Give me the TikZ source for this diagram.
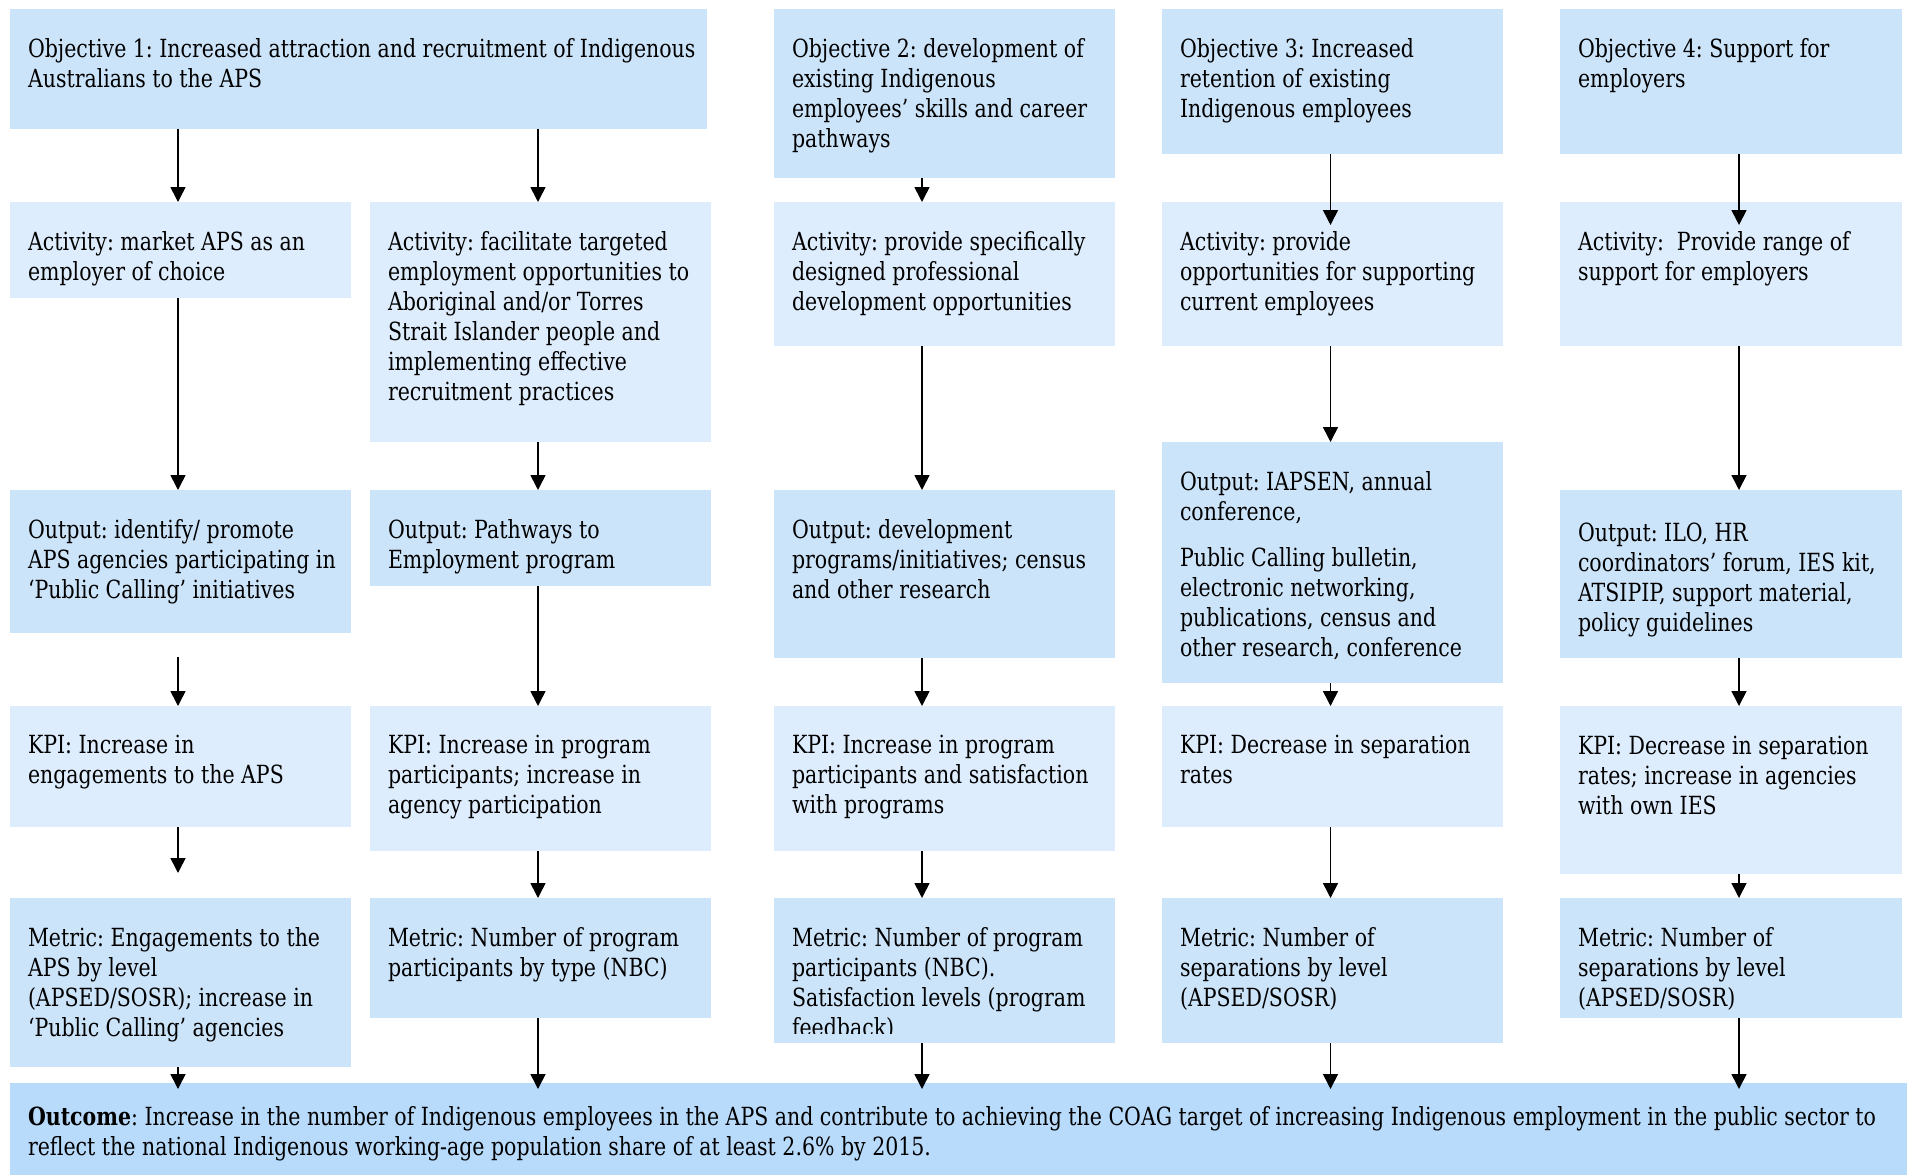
\documentclass[tikz,border=0pt]{standalone}
\usepackage{fontspec}
\setmainfont{DejaVu Serif}[FakeStretch=0.82]
\usetikzlibrary{arrows.meta,calc}
\definecolor{dk}{RGB}{204,228,250}
\definecolor{lt}{RGB}{222,237,253}
\definecolor{oc}{RGB}{184,218,251}
\newcommand{\mybox}[6]{%
  \pgfmathsetmacro{\mybw}{#4-#2}\pgfmathsetmacro{\mybh}{#5-#3}%
  \node[bx, fill=#6, anchor=north west, minimum width=\mybw pt, minimum height=\mybh pt] (#1) at (#2,#3) {};}
\newcommand{\mytext}[4]{\node[txt, anchor=north west] (#1) at (#2,#3) {\rule{0pt}{22pt}#4};}
\tikzset{
  bx/.style={rectangle, inner sep=0pt, outer sep=0pt, draw=none},
  txt/.style={inner sep=0pt, outer sep=0pt, align=left, text=black, font=\fontsize{25}{30}\selectfont\frenchspacing},
  arr/.style={line width=1.6pt, -{Triangle[width=15pt,length=15pt]}}
}
\begin{document}
\begin{tikzpicture}[x=1pt,y=-1pt]
\useasboundingbox (0,0) rectangle (1907,1175);
% column x positions of the connectors
\coordinate (xA) at (178,0);
\coordinate (xB) at (538,0);
\coordinate (xC) at (922,0);
\coordinate (xD) at (1330.5,0);
\coordinate (xE) at (1739,0);
% boxes
\mybox{objA}{10}{9}{707}{129}{dk}
\mybox{objC}{774}{9}{1115}{178}{dk}
\mybox{objD}{1162}{9}{1503}{154}{dk}
\mybox{objE}{1560}{9}{1902}{154}{dk}
\mybox{actA}{10}{202}{351}{298}{lt}
\mybox{actB}{370}{202}{711}{442}{lt}
\mybox{actC}{774}{202}{1115}{346}{lt}
\mybox{actD}{1162}{202}{1503}{346}{lt}
\mybox{actE}{1560}{202}{1902}{346}{lt}
\mybox{outA}{10}{490}{351}{633}{dk}
\mybox{outB}{370}{490}{711}{586}{dk}
\mybox{outC}{774}{490}{1115}{658}{dk}
\mybox{outD}{1162}{442}{1503}{683}{dk}
\mybox{outE}{1560}{490}{1902}{658}{dk}
\mybox{kpiA}{10}{706}{351}{827}{lt}
\mybox{kpiB}{370}{706}{711}{851}{lt}
\mybox{kpiC}{774}{706}{1115}{851}{lt}
\mybox{kpiD}{1162}{706}{1503}{827}{lt}
\mybox{kpiE}{1560}{706}{1902}{874}{lt}
\mybox{metA}{10}{898}{351}{1067}{dk}
\mybox{metB}{370}{898}{711}{1018}{dk}
\mybox{metC}{774}{898}{1115}{1043}{dk}
\mybox{metD}{1162}{898}{1503}{1043}{dk}
\mybox{metE}{1560}{898}{1902}{1018}{dk}
\mybox{outcome}{10}{1083}{1907}{1175}{oc}
% texts
\mytext{tobjA}{28}{35}{Objective 1: Increased attraction and recruitment of Indigenous\\Australians to the APS}
\mytext{tobjC}{792}{35}{Objective 2: development of\\existing Indigenous\\employees’ skills and career\\pathways}
\mytext{tobjD}{1180}{35}{Objective 3: Increased\\retention of existing\\Indigenous employees}
\mytext{tobjE}{1578}{35}{Objective 4: Support for\\employers}
\mytext{tactA}{28}{228}{Activity: market APS as an\\employer of choice}
\mytext{tactB}{388}{228}{Activity: facilitate targeted\\employment opportunities to\\Aboriginal and/or Torres\\Strait Islander people and\\implementing effective\\recruitment practices}
\mytext{tactC}{792}{228}{Activity: provide specifically\\designed professional\\development opportunities}
\mytext{tactD}{1180}{228}{Activity: provide\\opportunities for supporting\\current employees}
\mytext{tactE}{1578}{228}{Activity:\ \ Provide range of\\support for employers}
\mytext{toutA}{28}{516}{Output: identify/ promote\\APS agencies participating in\\‘Public Calling’ initiatives}
\mytext{toutB}{388}{516}{Output: Pathways to\\Employment program}
\mytext{toutC}{792}{516}{Output: development\\programs/initiatives; census\\and other research}
\mytext{toutD}{1180}{468}{Output: IAPSEN, annual\\conference,\\[16pt]Public Calling bulletin,\\electronic networking,\\publications, census and\\other research, conference}
\mytext{toutE}{1578}{519}{Output: ILO, HR\\coordinators’ forum, IES kit,\\ATSIPIP, support material,\\policy guidelines}
\mytext{tkpiA}{28}{731}{KPI: Increase in\\engagements to the APS}
\mytext{tkpiB}{388}{731}{KPI: Increase in program\\participants; increase in\\agency participation}
\mytext{tkpiC}{792}{731}{KPI: Increase in program\\participants and satisfaction\\with programs}
\mytext{tkpiD}{1180}{731}{KPI: Decrease in separation\\rates}
\mytext{tkpiE}{1578}{732}{KPI: Decrease in separation\\rates; increase in agencies\\with own IES}
\mytext{tmetA}{28}{924}{Metric: Engagements to the\\APS by level\\(APSED/SOSR); increase in\\‘Public Calling’ agencies}
\mytext{tmetB}{388}{924}{Metric: Number of program\\participants by type (NBC)}
\begin{scope}
\clip (774,898) rectangle (1115,1033);
\mytext{tmetC}{792}{924}{Metric: Number of program\\participants (NBC).\\Satisfaction levels (program\\feedback)}
\end{scope}
\mytext{tmetD}{1180}{924}{Metric: Number of\\separations by level\\(APSED/SOSR)}
\mytext{tmetE}{1578}{924}{Metric: Number of\\separations by level\\(APSED/SOSR)}
\mytext{toutcome}{28}{1103}{\textbf{Outcome}: Increase in the number of Indigenous employees in the APS and contribute to achieving the COAG target of increasing Indigenous employment in the public sector to\\reflect the national Indigenous working-age population share of at least 2.6\% by 2015.}
% connectors
\draw[arr] (objA.south -| xA) -- (actA.north -| xA);
\draw[arr] (objA.south -| xB) -- (actB.north -| xB);
\draw[arr] (objC.south -| xC) -- (actC.north -| xC);
\draw[arr] (objD.south -| xD) -- ($(actD.north -| xD)+(0,23)$);
\draw[arr] (objE.south -| xE) -- ($(actE.north -| xE)+(0,23)$);
\draw[arr] (actA.south -| xA) -- (outA.north -| xA);
\draw[arr] (actB.south -| xB) -- (outB.north -| xB);
\draw[arr] (actC.south -| xC) -- (outC.north -| xC);
\draw[arr] (actD.south -| xD) -- (outD.north -| xD);
\draw[arr] (actE.south -| xE) -- (outE.north -| xE);
\draw[arr] ($(outA.south -| xA)+(0,24)$) -- (kpiA.north -| xA);
\draw[arr] (outB.south -| xB) -- (kpiB.north -| xB);
\draw[arr] (outC.south -| xC) -- (kpiC.north -| xC);
\draw[arr] (outD.south -| xD) -- (kpiD.north -| xD);
\draw[arr] (outE.south -| xE) -- (kpiE.north -| xE);
\draw[arr] (kpiA.south -| xA) -- ($(metA.north -| xA)+(0,-25)$);
\draw[arr] (kpiB.south -| xB) -- (metB.north -| xB);
\draw[arr] (kpiC.south -| xC) -- (metC.north -| xC);
\draw[arr] (kpiD.south -| xD) -- (metD.north -| xD);
\draw[arr] (kpiE.south -| xE) -- (metE.north -| xE);
\draw[arr] (metA.south -| xA) -- ($(outcome.north -| xA)+(0,6)$);
\draw[arr] (metB.south -| xB) -- ($(outcome.north -| xB)+(0,6)$);
\draw[arr] (metC.south -| xC) -- ($(outcome.north -| xC)+(0,6)$);
\draw[arr] (metD.south -| xD) -- ($(outcome.north -| xD)+(0,6)$);
\draw[arr] (metE.south -| xE) -- ($(outcome.north -| xE)+(0,6)$);
\end{tikzpicture}
\end{document}
